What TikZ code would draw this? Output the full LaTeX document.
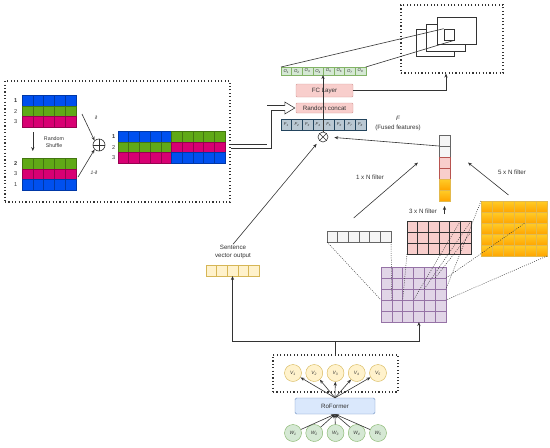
\documentclass[tikz,border=0pt]{standalone}
\usepackage{fontspec}
\setmainfont{Liberation Sans}
\usetikzlibrary{arrows.meta,calc,positioning}
\definecolor{mxink}{HTML}{333333}
\definecolor{mxblue}{HTML}{0050EF}
\definecolor{mxgreen}{HTML}{60A917}
\definecolor{mxmagenta}{HTML}{D80073}
\definecolor{mxmint}{HTML}{D5E8D4}
\definecolor{mxmintline}{HTML}{82B366}
\definecolor{mxslate}{HTML}{BAC8D3}
\definecolor{mxslateline}{HTML}{23445D}
\definecolor{mxrose}{HTML}{F8CECC}
\definecolor{mxroseline}{HTML}{B85450}
\definecolor{mxcream}{HTML}{FFF2CC}
\definecolor{mxcreamline}{HTML}{D6B656}
\definecolor{mxlilac}{HTML}{E1D5E7}
\definecolor{mxlilacline}{HTML}{9673A6}
\definecolor{mxgray}{HTML}{F5F5F5}
\definecolor{mxgrayline}{HTML}{666666}
\definecolor{mxsky}{HTML}{DAE8FC}
\definecolor{mxskyline}{HTML}{6C8EBF}
\definecolor{mxamber}{HTML}{FFCD28}
\definecolor{mxorange}{HTML}{FFA500}
\definecolor{mxorangeline}{HTML}{D79B00}
\tikzset{
  txt/.style={font=\fontsize{6.2}{7.4}\selectfont,text=mxink,inner sep=1pt},
  smalltxt/.style={font=\fontsize{5.3}{6.6}\selectfont,text=mxink,inner sep=1pt},
  rowlabel/.style={font=\fontsize{5.6}{6}\selectfont,text=mxink,inner sep=0.5pt},
  celltxt/.style={font=\fontsize{4.3}{5}\selectfont\itshape,text=mxink},
  dotbox/.style={draw=mxink,line width=1.2pt,dash pattern=on 1.1pt off 2.3pt,inner sep=0pt},
  cellbase/.style={draw,inner sep=0pt,outer sep=0pt,line width=0.4pt},
  mixcell/.style={cellbase,minimum width=10.8pt,minimum height=10.7pt},
  outcell/.style={cellbase,celltxt,fill=mxmint,draw=mxmintline,minimum width=10.6pt,minimum height=8pt},
  featcell/.style={cellbase,celltxt,fill=mxslate,draw=mxslateline,minimum width=10.6pt,minimum height=11pt},
  sentcell/.style={cellbase,fill=mxcream,draw=mxcreamline,minimum width=10.6pt,minimum height=11pt},
  graycell/.style={cellbase,fill=mxgray,draw=mxgrayline,minimum width=10.67pt,minimum height=11pt},
  rosecell/.style={cellbase,fill=mxrose,draw=mxroseline,minimum width=11pt,minimum height=11pt},
  rosegrid/.style={cellbase,fill=mxrose,draw=mxink,minimum width=10.67pt,minimum height=11pt},
  ambercell/.style={cellbase,top color=mxamber,bottom color=mxorange,draw=mxorangeline!70,minimum width=11pt,minimum height=11pt},
  lilaccell/.style={cellbase,fill=mxlilac,draw=mxlilacline,minimum width=10.83pt,minimum height=11pt},
  layerbox/.style={txt,draw=mxroseline!60,fill=mxrose,rounded corners=1pt,minimum width=57pt},
  encbox/.style={txt,draw=mxskyline,fill=mxsky,rounded corners=1.5pt,minimum width=80pt,minimum height=16pt},
  vecnode/.style={circle,draw=mxcreamline,fill=mxcream,minimum size=17pt,inner sep=0pt,font=\fontsize{4.8}{5}\selectfont\itshape,text=mxink},
  wordnode/.style={vecnode,draw=mxmintline,fill=mxmint},
  opnode/.style={circle,draw=mxink,line width=0.6pt,fill=white,inner sep=0pt},
  sheet/.style={draw=mxink,fill=white,line width=0.6pt,inner sep=0pt},
  link/.style={draw=mxink,line width=0.6pt},
  arr/.style={draw=mxink,line width=0.6pt,-{Stealth[length=4pt,width=3.2pt]}},
  dotlink/.style={draw=mxink,line width=0.5pt,dash pattern=on 0.9pt off 1.3pt},
  hollow/.style={draw=mxink,double=white,double distance=3.8pt,line width=0.7pt},
}
\begin{document}
\begin{tikzpicture}[x=1pt,y=-1pt]
  \path[use as bounding box] (0,0) rectangle (550,448);

  % mixing panel
  \node[dotbox,minimum width=225pt,minimum height=121pt] (mixbox) at (117.5,141.5) {};
  \foreach \r/\col in {1/blue,2/green,3/magenta}
    {\foreach \c in {1,...,5}
      {\node[mixcell,fill=mx\col,draw=mx\col!70!black] (a-\r-\c) at ({22+10.8*(\c-0.5)},{95+10.7*(\r-0.5)}) {};}}
  \foreach \r/\col in {1/green,2/magenta,3/blue}
    {\foreach \c in {1,...,5}
      {\node[mixcell,fill=mx\col,draw=mx\col!70!black] (b-\r-\c) at ({22+10.8*(\c-0.5)},{158+10.7*(\r-0.5)}) {};}}
  \foreach \r/\lcol/\rcol in {1/blue/green,2/green/magenta,3/magenta/blue}
    {\foreach \c in {1,...,5}
      {\node[mixcell,fill=mx\lcol,draw=mx\lcol!70!black] (c-\r-\c) at ({118+10.7*(\c-0.5)},{131+10.7*(\r-0.5)}) {};}
     \foreach \c in {6,...,10}
      {\node[mixcell,fill=mx\rcol,draw=mx\rcol!70!black] (c-\r-\c) at ({118+10.7*(\c-0.5)},{131+10.7*(\r-0.5)}) {};}}
  \foreach \r/\lbl in {1/\textbf{1},2/2,3/3}
    {\node[rowlabel,left=4pt of a-\r-1] {\lbl};}
  \foreach \r/\lbl in {1/\textbf{2},2/3,3/1}
    {\node[rowlabel,left=4pt of b-\r-1] {\lbl};}
  \foreach \r/\lbl in {1/\textbf{1},2/2,3/3}
    {\node[rowlabel,left=2pt of c-\r-1] {\lbl};}
  \draw[arr] ([yshift=-5pt]a-3-1.south east) -- ([yshift=7pt]b-1-1.north east);
  \node[smalltxt,align=center] (shuffle) at (54,142) {Random\\Shuffle};
  \node[opnode,minimum size=12pt] (mix) at (99,145) {};
  \draw[link] (mix.north) -- (mix.south) (mix.west) -- (mix.east);
  \draw[arr] ([xshift=6pt,yshift=-3pt]a-2-5.east) -- (mix.north west);
  \draw[arr] ([xshift=2pt,yshift=-3pt]b-2-5.east) -- (mix.south west);
  \node[smalltxt,font=\fontsize{5}{6}\selectfont\itshape] (wmix) at (96,118) {∂};
  \node[smalltxt,font=\fontsize{5}{6}\selectfont\itshape] (wrest) at (94,173) {1-∂};

  % fusion and output
  \foreach \i in {1,...,8}
    {\node[outcell] (o\i) at ({281+10.6*(\i-0.5)},71) {O\textsubscript{\i}};}
  \foreach \i in {1,...,8}
    {\node[featcell] (f\i) at ({281+10.6*(\i-0.5)},124.5) {F\textsubscript{\i}};}
  \node[layerbox,minimum height=13pt] (fc) at (324.5,90.5) {FC Layer};
  \node[layerbox,minimum height=10pt] (concat) at (324.5,108) {Random concat};
  \node[opnode,minimum size=10pt] (fuse) at (323,137) {};
  \draw[link] (fuse.45) -- (fuse.225) (fuse.135) -- (fuse.315);
  \draw[arr] (fuse.north) -- (fuse.north |- o4.south);
  \node[txt,font=\fontsize{6.2}{7.4}\selectfont\itshape] (fsym) at (398,118) {F};
  \node[txt] (fnote) at (398,128) {(Fused features)};

  \coordinate (hd) at ([xshift=-11pt]concat.west);
  \draw[hollow] ([yshift=-5pt]mixbox.east) -- ++(38.5,0) |- (hd);
  \draw[link,fill=white] ([yshift=2.25pt]hd) -- ([yshift=6pt]hd) -- ([xshift=-1pt]concat.west)
    -- ([yshift=-6pt]hd) -- ([yshift=-2.25pt]hd);

  \node[dotbox,minimum width=102pt,minimum height=68pt] (outbox) at (452,39) {};
  \node[sheet,minimum width=38pt,minimum height=27pt] (sheet1) at (435,42.5) {};
  \node[sheet,minimum width=39pt,minimum height=27pt] (sheet2) at (445.5,37.5) {};
  \node[sheet,minimum width=39pt,minimum height=27pt] (sheet3) at (456.5,30.5) {};
  \node[sheet,minimum width=10pt,minimum height=11pt] (patch) at (449,34.5) {};
  \draw[link] (o1.north west) -- (patch.north west);
  \draw[link] (o8.north east) -- (patch.south east);
  \draw[arr] (fc.east) -| ([xshift=-6pt]outbox.south);

  % pooled column
  \foreach \k in {1,2}
    {\node[graycell,minimum width=11pt] (s\k) at (444.5,{140.5+11*(\k-1)}) {};}
  \foreach \k in {3,4}
    {\node[rosecell] (s\k) at (444.5,{140.5+11*(\k-1)}) {};}
  \foreach \k in {5,6}
    {\node[ambercell] (s\k) at (444.5,{140.5+11*(\k-1)}) {};}
  \draw[arr,shorten >=6pt] (s1.south west) -- (fuse.east);

  % sentence vector
  \foreach \i in {1,...,5}
    {\node[sentcell] (sv\i) at ({206+10.6*(\i-0.5)},270.5) {};}
  \node[txt,align=center] (svlabel) at (233,252) {Sentence\\vector output};
  \draw[arr,shorten >=4pt] (svlabel.north) -- (fuse.south west);

  % filters
  \foreach \c in {1,...,6}
    {\node[graycell] (g\c) at ({327+10.67*(\c-0.5)},236.5) {};}
  \foreach \r in {1,2,3}
    {\foreach \c in {1,...,6}
      {\node[rosegrid] (k-\r-\c) at ({407+10.67*(\c-0.5)},{221+11*(\r-0.5)}) {};}}
  \foreach \r in {1,...,5}
    {\foreach \c in {1,...,6}
      {\node[ambercell] (y-\r-\c) at ({481+11*(\c-0.5)},{201+11*(\r-0.5)}) {};}}
  \foreach \r in {1,...,5}
    {\foreach \c in {1,...,6}
      {\node[lilaccell] (p-\r-\c) at ({381+10.83*(\c-0.5)},{267+11*(\r-0.5)}) {};}}
  \node[txt] (lab1) at (370,177) {1 x N filter};
  \node[txt] (lab3) at (423,211) {3 x N filter};
  \node[txt] (lab5) at (512,172) {5 x N filter};
  \draw[arr] ([yshift=13pt]g3.north) -- ([xshift=-21pt]s3.west);
  \draw[arr] ([yshift=6pt]y-1-3.north) -- ([xshift=18pt]s3.east);
  \draw[arr] ([yshift=-13pt]s6.south) -- ([yshift=-5pt]s6.south);
  \draw[dotlink] (g1.south west) -- (p-3-1.south west);
  \draw[dotlink] (g6.south east) -- (p-3-1.south east);
  \draw[dotlink] (k-3-1.south west) -- (p-3-2.south east);
  \draw[dotlink] (k-1-6.north west) -- (p-3-3.south east);
  \draw[dotlink] (k-1-6.north east) -- (p-2-4.south east);
  \draw[dotlink] (k-2-6.north east) -- (p-1-5.south east);
  \draw[dotlink] (y-1-1.north west) -- (p-2-6.south east);
  \draw[dotlink] (p-1-6.south east) -- (y-2-4.south east);
  \draw[dotlink] (y-5-6.south east) -- (p-3-6.south east);

  % encoder
  \node[dotbox,minimum width=125pt,minimum height=37pt] (vbox) at (335.5,373.5) {};
  \foreach \i in {1,...,5}
    {\node[vecnode] (v\i) at ({293+21.25*(\i-1)},373) {V\textsubscript{\i}};
     \node[wordnode] (w\i) at ({293+21.25*(\i-1)},433) {W\textsubscript{\i}};}
  \node[encbox] (rof) at (335,406) {RoFormer};
  \foreach \i in {1,...,5}
    {\draw[arr] (rof.north) -- (v\i);
     \draw[arr] (w\i) -- (rof.south);}
  \coordinate (junc) at ([yshift=13pt]vbox.north);
  \draw[arr] (vbox.north) -- (junc) -| (sv3.south);
  \draw[arr] (junc) -| (p-5-4.south);
\end{tikzpicture}
\end{document}
